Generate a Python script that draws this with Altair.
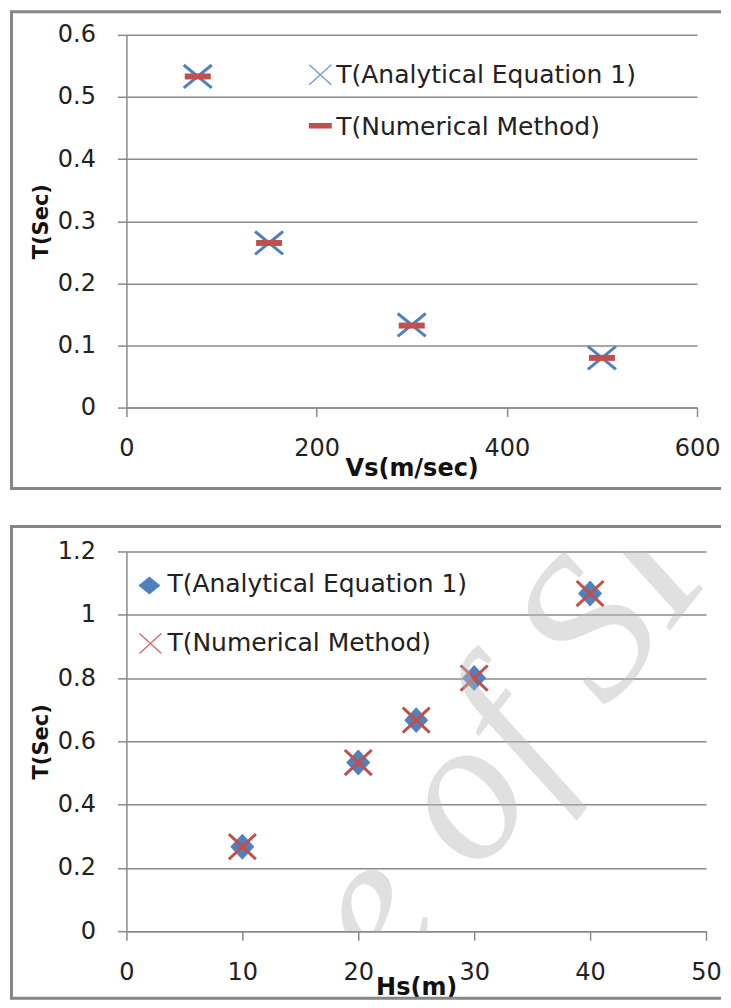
import altair as alt
import pandas as pd

# ---------------- data ----------------
vs = [75, 150, 300, 500]
t_vs_analytical = [0.533, 0.265, 0.133, 0.080]
t_vs_numerical = [0.533, 0.265, 0.132, 0.080]

hs = [10, 20, 25, 30, 40]
t_hs_analytical = [0.267, 0.533, 0.667, 0.800, 1.067]
t_hs_numerical = [0.267, 0.533, 0.667, 0.800, 1.067]

vs_ticks = [0, 200, 400, 600]
t_top_ticks = [0, 0.1, 0.2, 0.3, 0.4, 0.5, 0.6]
hs_ticks = [0, 10, 20, 30, 40, 50]
t_bot_ticks = [0, 0.2, 0.4, 0.6, 0.8, 1.0, 1.2]

legend_analytical = "T(Analytical Equation 1)"
legend_numerical = "T(Numerical Method)"
watermark_text = "Archive of SID"

# ---------------- style ----------------
FONT = "DejaVu Sans"
GRID = "#8a8a8a"
BORDER = "#868686"
BLUE = "#4F81BD"
RED = "#C0504D"
TXT = "#222222"

X_PATH_TOP = "M-1,-0.82L1,0.82M-1,0.82L1,-0.82"
DASH_PATH = "M-1,-0.23L1,-0.23L1,0.23L-1,0.23Z"
X_PATH_LEG = "M-1,-0.91L1,0.91M-1,0.91L1,-0.91"
DASH_PATH_LEG = "M-1,-0.24L1,-0.24L1,0.24L-1,0.24Z"
DIAMOND_PATH = "M0,-1.08L1,0L0,1.08L-1,0Z"
X_PATH_BOT = "M-1,-0.93L1,0.93M-1,0.93L1,-0.93"
DIAMOND_PATH_LEG = "M0,-0.82L1,0L0,0.82L-1,0Z"

one = pd.DataFrame({"k": [0]})


def border(x0, x1, y0, y1):
    base = alt.Chart(one).mark_rule(color=BORDER, strokeWidth=3)
    left = base.encode(x=alt.value(x0), y=alt.value(y0 - 1.5), y2=alt.value(y1 + 1.5))
    top = base.encode(x=alt.value(x0), x2=alt.value(x1), y=alt.value(y0))
    bottom = base.encode(x=alt.value(x0), x2=alt.value(x1), y=alt.value(y1))
    return [left, top, bottom]


def legend_text(label, x, y):
    return alt.Chart(pd.DataFrame({"label": [label]})).mark_text(
        align="left", baseline="middle", font=FONT, fontSize=25, color=TXT
    ).encode(text="label:N", x=alt.value(x), y=alt.value(y))


# ---------------- top panel ----------------
W1, H1 = 571, 373
top_a = pd.DataFrame({"Vs": vs, "T": t_vs_analytical})
top_n = pd.DataFrame({"Vs": vs, "T": t_vs_numerical})

x_top = alt.X(
    "Vs:Q",
    scale=alt.Scale(domain=[0, 600], nice=False),
    axis=alt.Axis(values=vs_ticks, title="Vs(m/sec)", grid=False, tickSize=9,
                  labelPadding=20, titleY=68, titleBaseline="alphabetic",
                  labelFlush=False, format="~r"),
)
y_top = alt.Y(
    "T:Q",
    scale=alt.Scale(domain=[0, 0.6], nice=False),
    axis=alt.Axis(values=t_top_ticks, title="T(Sec)", grid=True, tickSize=9,
                  labelPadding=22, titleX=-79, titleBaseline="alphabetic",
                  titleFontSize=21, format="~r"),
)

top_x_marks = alt.Chart(top_a).mark_point(
    shape=X_PATH_TOP, size=784, filled=False, strokeWidth=3, color=BLUE, opacity=1
).encode(x=x_top, y=y_top)
top_dash_marks = alt.Chart(top_n).mark_point(
    shape=DASH_PATH, size=676, filled=True, color=RED, opacity=1
).encode(x=x_top, y=y_top)

top_leg_x = alt.Chart(one).mark_point(
    shape=X_PATH_LEG, size=484, filled=False, strokeWidth=1.3, color="#6f9bd1", opacity=1
).encode(x=alt.value(194), y=alt.value(40))
top_leg_dash = alt.Chart(one).mark_point(
    shape=DASH_PATH_LEG, size=529, filled=True, color=RED, opacity=1
).encode(x=alt.value(194), y=alt.value(91))

top = alt.layer(
    top_x_marks, top_dash_marks,
    top_leg_x, legend_text(legend_analytical, 210, 40),
    top_leg_dash, legend_text(legend_numerical, 210, 92),
    *border(-115, 595, -23, 454),
).properties(width=W1, height=H1)

# ---------------- bottom panel ----------------
W2, H2 = 580, 380
bot_a = pd.DataFrame({"Hs": hs, "T": t_hs_analytical})
bot_n = pd.DataFrame({"Hs": hs, "T": t_hs_numerical})

x_bot = alt.X(
    "Hs:Q",
    scale=alt.Scale(domain=[0, 50], nice=False),
    axis=alt.Axis(values=hs_ticks, title="Hs(m)", grid=False, tickSize=9,
                  labelPadding=20, titleY=63, titleBaseline="alphabetic",
                  labelFlush=False, format="~r"),
)
y_bot = alt.Y(
    "T:Q",
    scale=alt.Scale(domain=[0, 1.2], nice=False),
    axis=alt.Axis(values=t_bot_ticks, title="T(Sec)", grid=True, tickSize=9,
                  labelPadding=22, titleX=-79, titleBaseline="alphabetic",
                  titleFontSize=21, format="~r"),
)

bot_diamonds = alt.Chart(bot_a).mark_point(
    shape=DIAMOND_PATH, size=576, filled=True, color=BLUE, opacity=1
).encode(x=x_bot, y=y_bot)
bot_x_marks = alt.Chart(bot_n).mark_point(
    shape=X_PATH_BOT, size=729, filled=False, strokeWidth=3, color=RED, opacity=1
).encode(x=x_bot, y=y_bot)

bot_leg_d = alt.Chart(one).mark_point(
    shape=DIAMOND_PATH_LEG, size=484, filled=True, color=BLUE, opacity=1
).encode(x=alt.value(23), y=alt.value(34))
bot_leg_x = alt.Chart(one).mark_point(
    shape=X_PATH_LEG, size=484, filled=False, strokeWidth=1.3, color="#d06a68", opacity=1
).encode(x=alt.value(24), y=alt.value(92))

watermark = alt.Chart(pd.DataFrame({"w": [watermark_text]})).mark_text(
    font="Liberation Serif", fontStyle="italic", fontSize=205, angle=308,
    align="center", baseline="alphabetic", color="#bbbbbb", opacity=0.45, clip=True
).encode(text="w:N", x=alt.value(305), y=alt.value(385))

bottom = alt.layer(
    bot_diamonds, bot_x_marks,
    bot_leg_d, legend_text(legend_analytical, 41, 33),
    bot_leg_x, legend_text(legend_numerical, 41, 92),
    *border(-115, 595, -25, 447),
    watermark,
).properties(width=W2, height=H2)

chart = alt.vconcat(top, bottom, spacing=144, bounds="flush").properties(
    padding={"left": 1.5, "top": 0.5, "right": 0, "bottom": 0}
).configure_view(strokeWidth=0).configure_axis(
    domainColor=GRID, domainWidth=1.5, tickColor=GRID, tickWidth=1.5,
    gridColor=GRID, gridWidth=1.5, labelFont=FONT, labelFontSize=24,
    labelColor=TXT, titleFont=FONT, titleFontSize=24, titleFontWeight="bold",
    titleColor="#111111", labelOverlap=False,
)

chart.save("out.html", embed_options={"renderer": "svg", "actions": False})
